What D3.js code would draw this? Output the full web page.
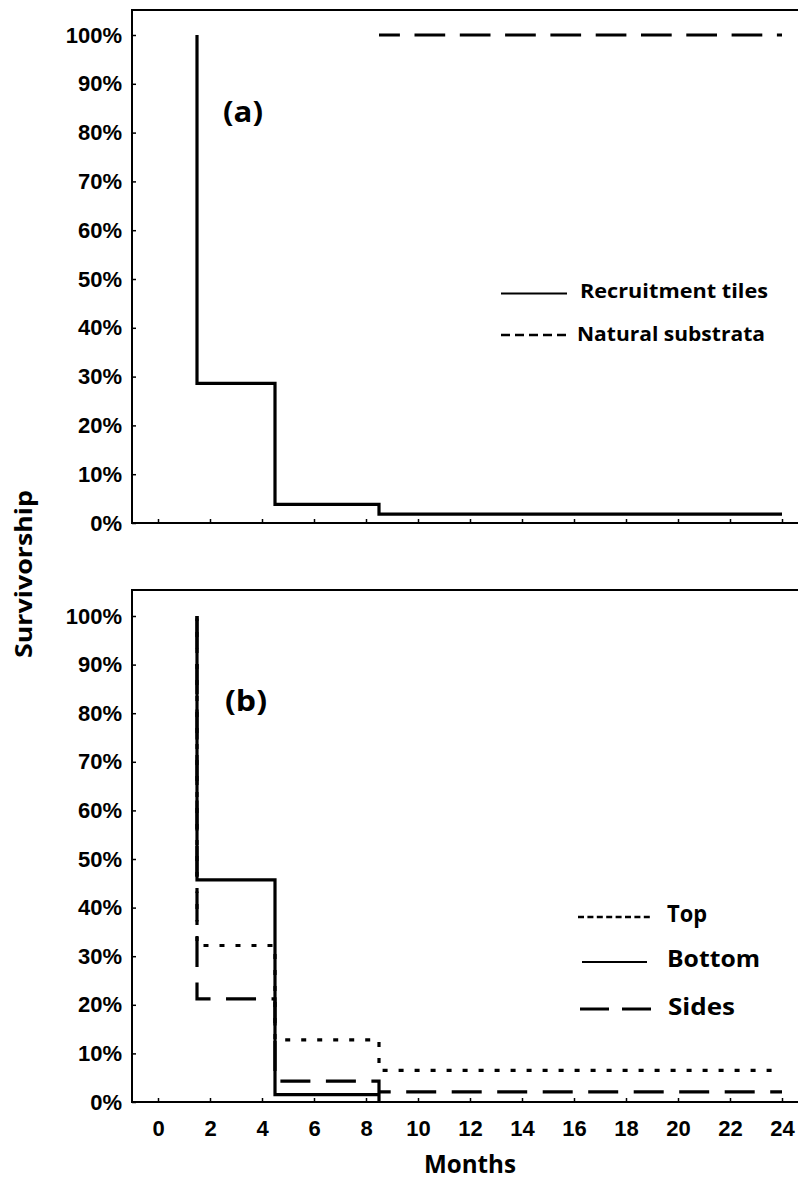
<!DOCTYPE html>
<html>
<head>
<meta charset="utf-8">
<script src="https://cdn.jsdelivr.net/npm/d3@7/dist/d3.min.js"></script>
<style>
  html, body { margin: 0; padding: 0; background: #fff; }
  svg { display: block; }
  .num { font-family: "Liberation Sans", Arial, sans-serif; font-weight: bold; font-size: 22px; fill: #000; }
  .lbl { font-family: "Open Sans", sans-serif; font-weight: 700; fill: #000; }
  .tick line { stroke: #000; stroke-width: 1.5; }
</style>
</head>
<body>
<svg id="chart" width="798" height="1184"></svg>
<script>
// Axis ticks
const monthTicks = [0, 2, 4, 6, 8, 10, 12, 14, 16, 18, 20, 22, 24];
const pctTicks = [0, 10, 20, 30, 40, 50, 60, 70, 80, 90, 100];

// (a) Survivorship by substratum type (months, % surviving after each step)
const tilesMonths    = [1.5, 1.5, 4.5, 8.5, 24];
const tilesSurvival  = [100, 28.6, 3.8, 1.8, 1.8];
const naturalMonths   = [8.5, 24];
const naturalSurvival = [100, 100];

// (b) Survivorship by tile surface
const topMonths      = [1.5, 1.5, 4.5, 8.5, 24];
const topSurvival    = [100, 32.2, 12.8, 6.5, 6.5];
const bottomMonths   = [1.5, 1.5, 4.5, 8.5];
const bottomSurvival = [100, 45.7, 1.5, 0];
const sidesMonths    = [1.5, 1.5, 4.5, 8.5, 24];
const sidesSurvival  = [100, 21.2, 4.3, 2.1, 2.1];

const svg = d3.select("#chart");
const x = d3.scaleLinear().domain([-1, 25]).range([132, 808]);

function fit(sel, len) {
  return sel.attr("textLength", len).attr("lengthAdjust", "spacingAndGlyphs");
}

function makePanel(frameTop, zeroY, fullY, showMonthLabels) {
  const y = d3.scaleLinear().domain([0, 100]).range([zeroY, fullY]);
  const g = svg.append("g");

  // frame: top, left and bottom edges (right edge runs past the page)
  g.append("path")
    .attr("d", `M${x.range()[1]},${frameTop}H${x.range()[0]}V${zeroY}H${x.range()[1]}`)
    .attr("fill", "none").attr("stroke", "#000").attr("stroke-width", 2);

  const yAxis = g.append("g")
    .attr("transform", `translate(${x.range()[0]},0)`)
    .call(d3.axisLeft(y).tickValues(pctTicks).tickSize(-4).tickPadding(10)
      .tickFormat(d => d + "%"));
  yAxis.select(".domain").remove();
  yAxis.selectAll("text").attr("class", "num");

  const xAxis = g.append("g")
    .attr("transform", `translate(0,${zeroY})`)
    .call(d3.axisBottom(x).tickValues(monthTicks).tickSize(-4).tickPadding(18)
      .tickFormat(showMonthLabels ? d3.format("d") : () => ""));
  xAxis.select(".domain").remove();
  xAxis.selectAll("text").attr("class", "num");

  return { g, y };
}

function drawSeries(p, months, surv, dash, offset) {
  const line = d3.line()
    .x((d, i) => x(months[i]))
    .y(d => p.y(d))
    .curve(d3.curveStepAfter);
  p.g.append("path")
    .attr("d", line(surv))
    .attr("fill", "none")
    .attr("stroke", "#000")
    .attr("stroke-width", 3.2)
    .attr("stroke-dasharray", dash || null)
    .attr("stroke-dashoffset", offset || 0);
}

// ---------- panel (a) ----------
const pa = makePanel(10, 523, 35, false);
drawSeries(pa, naturalMonths, naturalSurvival, "30.7,14.6", 9.8);
drawSeries(pa, tilesMonths, tilesSurvival);

fit(pa.g.append("text").attr("class", "lbl").attr("x", 223).attr("y", 122)
  .style("font-size", "29px").text("(a)"), 40);

// legend (a)
pa.g.append("line").attr("x1", 501).attr("x2", 567).attr("y1", 293.5).attr("y2", 293.5)
  .attr("stroke", "#000").attr("stroke-width", 2);
fit(pa.g.append("text").attr("class", "lbl").attr("x", 580).attr("y", 298)
  .style("font-size", "19px").text("Recruitment tiles"), 188);
pa.g.append("line").attr("x1", 501).attr("x2", 567).attr("y1", 335).attr("y2", 335)
  .attr("stroke", "#000").attr("stroke-width", 2.5).attr("stroke-dasharray", "9,5");
fit(pa.g.append("text").attr("class", "lbl").attr("x", 577).attr("y", 341)
  .style("font-size", "19px").text("Natural substrata"), 188);

// ---------- panel (b) ----------
const pb = makePanel(590, 1102, 616, true);
drawSeries(pb, sidesMonths, sidesSurvival, "30,15.5", 43);
drawSeries(pb, topMonths, topSurvival, "5,11", 0);
drawSeries(pb, bottomMonths, bottomSurvival);

fit(pb.g.append("text").attr("class", "lbl").attr("x", 225).attr("y", 711)
  .style("font-size", "29px").text("(b)"), 42);

// legend (b)
pb.g.append("line").attr("x1", 578).attr("x2", 652).attr("y1", 917).attr("y2", 917)
  .attr("stroke", "#000").attr("stroke-width", 2.5).attr("stroke-dasharray", "6,3.4");
fit(pb.g.append("text").attr("class", "lbl").attr("x", 667).attr("y", 922)
  .style("font-size", "23px").text("Top"), 40);
pb.g.append("line").attr("x1", 582).attr("x2", 647).attr("y1", 962).attr("y2", 962)
  .attr("stroke", "#000").attr("stroke-width", 2);
fit(pb.g.append("text").attr("class", "lbl").attr("x", 667).attr("y", 967)
  .style("font-size", "24px").text("Bottom"), 93);
pb.g.append("line").attr("x1", 580).attr("x2", 652).attr("y1", 1009).attr("y2", 1009)
  .attr("stroke", "#000").attr("stroke-width", 3).attr("stroke-dasharray", "29,13");
fit(pb.g.append("text").attr("class", "lbl").attr("x", 668).attr("y", 1015)
  .style("font-size", "24px").text("Sides"), 67);

// ---------- shared axis titles ----------
fit(svg.append("text").attr("class", "lbl")
  .attr("transform", "translate(32,574) rotate(-90)")
  .attr("text-anchor", "middle")
  .style("font-size", "24px").text("Survivorship"), 168);

fit(svg.append("text").attr("class", "lbl")
  .attr("x", 470).attr("y", 1173).attr("text-anchor", "middle")
  .style("font-size", "25px").text("Months"), 92);
</script>
</body>
</html>
